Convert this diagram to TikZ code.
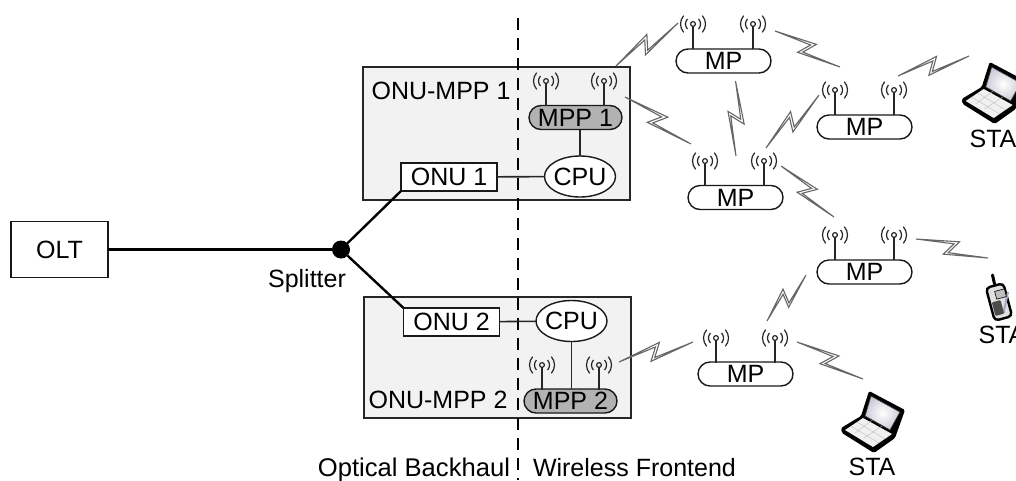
\documentclass[tikz,border=0pt]{standalone}
\usepackage{fontspec}
\setmainfont{Liberation Sans}
\usetikzlibrary{calc,shapes.geometric,shapes.misc}
\tikzset{
  x=1pt,y=-1pt,
  every node/.style={font=\fontsize{25}{27}\selectfont,inner sep=0pt,outer sep=0pt},
  region/.style={draw=black!85,fill=black!5,line width=1.5pt,minimum width=267pt},
  squarebox/.style={draw=black!90,fill=white,line width=1.5pt,minimum width=96pt,minimum height=28pt},
  pill/.style={rounded rectangle,draw=black!90,line width=1.4pt,minimum width=95pt,minimum height=24pt,fill=white},
  mpp/.style={pill,fill=black!30,minimum width=93pt},
  cpu/.style={ellipse,draw=black!90,fill=white,line width=1.4pt,minimum width=71pt,minimum height=41pt,inner sep=-2pt},
  link/.style={draw=black!85,line width=1.6pt},
  fibre/.style={draw=black,line width=2.4pt},
  boltline/.style={draw=black!60,fill=white,line width=1.1pt,line join=miter},
  antenna/.pic={
    \draw[black!85,line width=1.4pt] (0,2.4) -- (0,25);
    \draw[black!85,line width=1.2pt] (0,0) circle (2.4);
    \foreach \r/\w in {7.5/42,12.5/42}{
      \draw[black!85,line width=1.2pt] (\w:\r) arc[start angle=\w,end angle=-\w,radius=\r];
      \draw[black!85,line width=1.2pt] (180-\w:\r) arc[start angle=180-\w,end angle=180+\w,radius=\r];
    }
  },
  laptop/.pic={
    \fill[black,rounded corners=1.5pt] (27,-1) -- (63,18) -- (53,46) -- (32,61) -- (0,41) -- (-1,36) -- (19,24) -- cycle;
    \fill[white!94!black] (21,26) -- (50,42) -- (31,55) -- (3,38) -- cycle;
    \draw[black!25,line width=.4pt] (9,34) -- (37,51) (15,30) -- (43,47) (13,41) -- (33,26) (22,46) -- (40,34);
    \shade[inner color=white,outer color=blue!25!black!20] (29,4) -- (58,20) -- (48,38) -- (23,24) -- cycle;
    \draw[black!80,line width=.7pt] (29,4) -- (58,20) -- (48,38) -- (23,24) -- cycle;
  },
  phone/.pic={
    \draw[black,line width=3pt,line cap=round] (-6.5,-27) -- (-4.5,-18);
    \node[rotate=15,draw=black,line width=2.4pt,fill=black!12,rounded corners=4pt,minimum width=18pt,minimum height=34pt] (phonebody) at (0,0) {};
    \draw[blue!35!black!35,line width=2pt] (9,-10) -- (4.5,11);
    \node[rotate=15,draw=black,fill=black!25,line width=.6pt,minimum width=10pt,minimum height=8pt] at (1.5,-8) {};
    \node[rotate=15,fill=black!70,rounded corners=1pt,minimum width=9pt,minimum height=14pt] at (-1,6) {};
  }
}
\newcommand{\zap}[2]{%
  \draw[boltline] (#1)
    -- ($(#1)!.575!(#2)!8.4pt!90:(#2)$)
    -- ($(#1)!.465!(#2)!-5pt!90:(#2)$)
    -- (#2)
    -- ($(#1)!.405!(#2)!-7.7pt!90:(#2)$)
    -- ($(#1)!.51!(#2)!5pt!90:(#2)$)
    -- cycle;}
\begin{document}
\begin{tikzpicture}
\useasboundingbox (0,0) rectangle (1016,480);
\clip (0,0) rectangle (1016,480);
% regions
\node[region,minimum height=133pt] (regA) at (496.5,133.5) {};
\node[region,minimum height=121pt] (regB) at (497.5,357.5) {};
% divider
\coordinate (divT) at (518,18);
\coordinate (divB) at (518,480);
\draw[black,line width=1.1pt,dash pattern=on 12pt off 8pt] (divT) -- (divB);
% OLT + splitter
\node[squarebox,minimum width=97pt,minimum height=56pt] (olt) at (59.5,249.5) {OLT};
\node[circle,fill=black,minimum size=18pt] (split) at (341,249.5) {};
\node (splab) at (307,281) {Splitter};
\node[squarebox] (onuA) at (449,177) {ONU 1};
\node[squarebox] (onuB) at (451.5,322) {ONU 2};
\draw[fibre] (olt) -- (split);
\draw[fibre] (split) -- (onuA.south west);
\draw[fibre] (split) -- (onuB.north west);
% inside A
\node[cpu] (cpuA) at (580,176.5) {CPU};
\node[mpp] (mppA) at (575.5,117.5) {MPP 1};
\draw[link] (onuA) -- (cpuA);
\draw[link] (mppA.south -| cpuA.north) -- (cpuA.north);
\node (labA) at (441,91) {ONU-MPP 1};
% inside B
\node[cpu] (cpuB) at (571.5,321) {CPU};
\node[mpp] (mppB) at (570.5,401) {MPP 2};
\draw[link] (onuB) -- (cpuB);
\draw[link] (cpuB.south) -- (mppB.north -| cpuB.south);
\node (labB) at (438,400) {ONU-MPP 2};
% MP bodies
\node[pill] (mpA) at (723.5,61) {MP};
\node[pill] (mpB) at (735.5,197.5) {MP};
\node[pill] (mpC) at (864.5,127) {MP};
\node[pill] (mpD) at (864.5,272) {MP};
\node[pill] (mpE) at (745.5,374) {MP};
% antennas
\foreach \ax/\ay in {546/81,604/81,542/365,599/365,693/24,753/24,705/161,764/161,835/90,894/90,835/235,894/235,716/338,775/338}
  \pic at (\ax,\ay) {antenna};
% bolts
\foreach \n/\ax/\ay/\bx/\by in {
  a/616/66/678/23, b/625/97/691/144, c/735.5/81/736/156, d/775/31/840/67,
  e/766/148/819/95, f/898/76/969/56, g/781/166/834/217, h/916/239/988/258,
  i/767/321/806/275, j/619/362/693/342, k/797/342/863/379}{
  \coordinate (z\n1) at (\ax,\ay);
  \coordinate (z\n2) at (\bx,\by);
  \zap{z\n1}{z\n2}
}
% stations
\pic at (962.7,63) {laptop};
\pic at (842,392) {laptop};
\pic at (999,302) {phone};
\node (staA) at (993,139) {STA};
\node (staB) at (1002,335) {STA};
\node (staC) at (872,467) {STA};
% captions
\node[anchor=base east,font=\fontsize{25.6}{27}\selectfont] (capL) at (510,476) {Optical Backhaul};
\node[anchor=base west] (capR) at (533,476) {Wireless Frontend};
\end{tikzpicture}
\end{document}
